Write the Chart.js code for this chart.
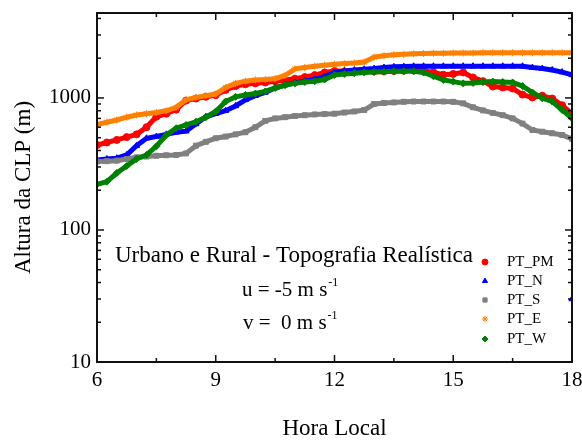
<!DOCTYPE html>
<html>
<head>
<meta charset="utf-8">
<script src="https://cdn.jsdelivr.net/npm/chart.js@4.4.1/dist/chart.umd.min.js"></script>
<style>
  html, body { margin: 0; padding: 0; background: #fff; }
  #wrap { width: 582px; height: 441px; }
</style>
</head>
<body>
<div id="wrap"><canvas id="clp" width="582" height="441"></canvas></div>
<script>
// hora local (h)
const hours = [
  6, 6.25, 6.5, 6.75, 7, 7.25, 7.5, 7.75, 8, 8.25, 8.5, 8.75,
  9, 9.25, 9.5, 9.75, 10, 10.25, 10.5, 10.75, 11, 11.25, 11.5, 11.75,
  12, 12.25, 12.5, 12.75, 13, 13.25, 13.5, 13.75, 14, 14.25, 14.5, 14.75,
  15, 15.25, 15.5, 15.75, 16, 16.25, 16.5, 16.75, 17, 17.25, 17.5, 17.75, 18
];

// altura da CLP (m) por ponto
const ptPM = [
  440, 460, 481, 505, 530, 600, 720, 760, 815, 955, 990, 1020,
  1050, 1150, 1230, 1270, 1290, 1310, 1340, 1370, 1400, 1440, 1490, 1560,
  1600, 1590, 1590, 1590, 1590, 1590, 1600, 1610, 1620, 1610, 1560, 1500,
  1520, 1560, 1430, 1340, 1220, 1200, 1180, 1060, 1010, 1040, 990, 880, 760
];
const ptN = [
  339, 345, 350, 370, 435, 495, 510, 530, 550, 560, 635, 720,
  760, 800, 870, 966, 1040, 1100, 1190, 1250, 1300, 1340, 1380, 1450,
  1560, 1600, 1630, 1650, 1670, 1700, 1720, 1730, 1740, 1740, 1740, 1740,
  1740, 1740, 1740, 1740, 1740, 1740, 1740, 1740, 1700, 1670, 1630, 1570, 1494
];
// ponto isolado de PT_N no fim da simulação
const ptNLateX = [18];
const ptNLateY = [30];
const ptS = [
  330, 332, 335, 345, 355, 360, 365, 368, 370, 380, 435, 465,
  495, 510, 530, 550, 600, 670, 700, 715, 730, 740, 750, 755,
  760, 775, 790, 810, 900, 915, 925, 935, 940, 940, 940, 940,
  935, 910, 850, 805, 770, 740, 700, 640, 572, 555, 540, 524, 490
];
const ptE = [
  630, 655, 681, 715, 743, 760, 775, 800, 850, 970, 1010, 1040,
  1070, 1200, 1290, 1340, 1370, 1380, 1400, 1480, 1660, 1700, 1740, 1770,
  1800, 1820, 1840, 1870, 2040, 2090, 2120, 2140, 2160, 2170, 2180, 2180,
  2190, 2190, 2190, 2200, 2200, 2200, 2200, 2200, 2200, 2200, 2200, 2200, 2200
];
const ptW = [
  222, 232, 270, 305, 345, 370, 430, 524, 590, 624, 660, 715,
  790, 940, 1020, 1054, 1080, 1120, 1190, 1250, 1290, 1320, 1340, 1380,
  1494, 1520, 1540, 1560, 1570, 1580, 1590, 1590, 1590, 1560, 1460, 1370,
  1330, 1290, 1300, 1320, 1330, 1320, 1310, 1230, 1100, 995, 940, 811, 700
];

const xTickLabels = [6, 9, 12, 15, 18];
const xMinorTicks = [7.5, 10.5, 13.5, 16.5];
const yTickLabels = [10, 100, 1000];

const serif = '"Liberation Serif", "Times New Roman", serif';

const pairs = (ys) => hours.map((h, i) => ({ x: h, y: ys[i] }));

const series = [
  { label: 'PT_PM', values: pairs(ptPM), color: '#ff0000', style: 'circle', order: 5 },
  { label: 'PT_N', values: pairs(ptN).concat([{ x: 18, y: null }],
      ptNLateX.map((h, i) => ({ x: h, y: ptNLateY[i] }))), color: '#0000ff', style: 'triangle', order: 4 },
  { label: 'PT_S', values: pairs(ptS), color: '#808080', style: 'rect', order: 3 },
  { label: 'PT_E', values: pairs(ptE), color: '#ff8000', style: 'star', order: 2 },
  { label: 'PT_W', values: pairs(ptW), color: '#008000', style: 'rectRot', order: 1 },
];

// no label overflow padding: the plot box is fixed by layout.padding + afterFit sizes
const noPad = (s) => {
  s.paddingTop = 0; s.paddingBottom = 0; s.paddingLeft = 0; s.paddingRight = 0;
};

// ticks voltados para dentro nos quatro lados + moldura
const frameTicks = {
  id: 'frameTicks',
  afterDatasetsDraw(chart) {
    const { ctx, chartArea: a, scales: { x, y } } = chart;
    ctx.save();
    ctx.strokeStyle = '#111';
    ctx.lineWidth = 1.5;
    const seg = (x1, y1, x2, y2) => {
      ctx.beginPath(); ctx.moveTo(x1, y1); ctx.lineTo(x2, y2); ctx.stroke();
    };
    const xTick = (v, len) => {
      const px = x.getPixelForValue(v);
      seg(px, a.bottom, px, a.bottom - len);
      seg(px, a.top, px, a.top + len);
    };
    xTickLabels.forEach(v => xTick(v, 7));
    xMinorTicks.forEach(v => xTick(v, 4));

    const yTick = (v, len) => {
      const py = y.getPixelForValue(v);
      seg(a.left, py, a.left + len, py);
      seg(a.right, py, a.right - len, py);
    };
    yTickLabels.forEach(dec => {
      yTick(dec, 7);
      for (let m = 2; m <= 9; m++) {
        if (dec * m <= y.max) yTick(dec * m, 4);
      }
    });

    ctx.lineWidth = 2;
    ctx.strokeRect(a.left, a.top, a.right - a.left, a.bottom - a.top);
    ctx.restore();
  }
};

// rótulo do caso e legenda dentro da área do gráfico
const notes = {
  id: 'notes',
  afterDraw(chart) {
    const { ctx } = chart;
    ctx.save();
    ctx.fillStyle = '#000';
    ctx.textAlign = 'left';
    ctx.textBaseline = 'alphabetic';
    ctx.font = '23px ' + serif;
    ctx.fillText('Urbano e Rural - Topografia Realística', 115, 262);

    const windLine = (txt, x0, yb) => {
      ctx.font = '21px ' + serif;
      ctx.fillText(txt, x0, yb);
      const w = ctx.measureText(txt).width;
      ctx.font = '12px ' + serif;
      ctx.fillText('-1', x0 + w + 1, yb - 10);
    };
    windLine('u = -5 m s', 242, 296);
    windLine('v =  0 m s', 243, 329);

    const rows = [262, 281, 300, 319, 339];
    ctx.font = '15px ' + serif;
    ctx.textBaseline = 'middle';
    chart.data.datasets.forEach((ds, i) => {
      ctx.fillStyle = ds.backgroundColor;
      ctx.strokeStyle = ds.borderColor;
      ctx.lineWidth = 1;
      Chart.helpers.drawPoint(ctx, { pointStyle: ds.pointStyle, radius: 3, rotation: 0, borderWidth: 1 }, 485, rows[i]);
      ctx.fillStyle = '#000';
      ctx.fillText(ds.label, 507, rows[i]);
    });
    ctx.restore();
  }
};

new Chart(document.getElementById('clp'), {
  type: 'scatter',
  data: {
    datasets: series.map(s => ({
      label: s.label,
      data: s.values,
      showLine: true,
      spanGaps: false,
      borderColor: s.color,
      backgroundColor: s.color,
      borderWidth: 5,
      pointStyle: s.style,
      pointRadius: 3.5,
      pointBorderWidth: 1,
      order: s.order,
    }))
  },
  options: {
    responsive: false,
    animation: false,
    devicePixelRatio: 1,
    layout: { padding: { top: 13, right: 10, left: 0, bottom: 0 } },
    plugins: {
      legend: { display: false },
      tooltip: { enabled: false },
    },
    scales: {
      x: {
        type: 'linear',
        min: 6,
        max: 18,
        grid: { display: false, drawTicks: false },
        border: { display: false },
        afterFit: (s) => { s.height = 79; noPad(s); },
        afterBuildTicks: (s) => { s.ticks = xTickLabels.map(v => ({ value: v })); },
        ticks: { color: '#000', font: { family: serif, size: 21 }, padding: 6, maxRotation: 0 },
        title: {
          display: true,
          text: 'Hora Local',
          color: '#000',
          font: { family: serif, size: 23 },
          padding: { top: 0, bottom: -2 },
        },
      },
      y: {
        type: 'logarithmic',
        min: 10,
        max: 4400,
        grid: { display: false, drawTicks: false },
        border: { display: false },
        afterFit: (s) => { s.width = 97; noPad(s); },
        afterBuildTicks: (s) => { s.ticks = yTickLabels.map(v => ({ value: v })); },
        ticks: {
          color: '#000',
          font: { family: serif, size: 21 },
          padding: 6,
          autoSkip: false,
          callback: (v) => String(v),
        },
        title: {
          display: true,
          text: 'Altura da CLP (m)',
          color: '#000',
          font: { family: serif, size: 23 },
          padding: { top: 10, bottom: 0 },
        },
      },
    },
  },
  plugins: [frameTicks, notes],
});
</script>
</body>
</html>
